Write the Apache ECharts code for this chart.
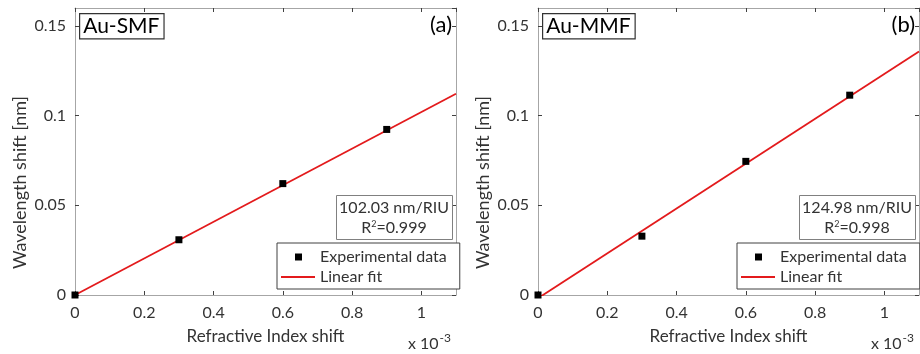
<!DOCTYPE html>
<html>
<head>
<meta charset="utf-8">
<script src="https://cdn.jsdelivr.net/npm/echarts@6/dist/echarts.min.js"></script>
<style>
html,body{margin:0;padding:0;background:#fff;}
#chart{width:920px;height:354px;}
</style>
</head>
<body>
<div id="chart"></div>
<script>
// ---- data (x in units of 1e-3 RIU, y in nm) ----
const expXA = [0, 0.3, 0.6, 0.9];
const expYA = [0, 0.0308, 0.0621, 0.0923];
const fitXA = [0, 1.1];
const fitYA = [0, 0.1122];

const expXB = [0, 0.3, 0.6, 0.9];
const expYB = [0, 0.0328, 0.0745, 0.1114];
const fitXB = [0, 1.1];
const fitYB = [-0.0018, 0.1357];

const xTicks = [0, 0.2, 0.4, 0.6, 0.8, 1];
const yTicks = [0, 0.05, 0.1, 0.15];

const panelTitles = ['Au-SMF', 'Au-MMF'];
const panelLetters = ['(a)', '(b)'];
const sensText = ['102.03 nm/RIU', '124.98 nm/RIU'];
const r2Text = ['0.999', '0.998'];

const FONT = 'Lato';
const TXT = '#333333';
const AXC = '#a6a6a6';
const TKC = '#404040';
const RED = '#e31a1c';

function pairs(xs, ys){ return xs.map((x,i)=>[x, ys[i]]); }

const grids = [
  {left: 75, top: 8, width: 381, height: 287},
  {left: 538, top: 8, width: 381, height: 287}
];

const xAxes = [], yAxes = [];
[0,1].forEach(g=>{
  xAxes.push({
    type:'value', gridIndex:g, min:0, max:1.1, interval:0.2, position:'bottom',
    name:'Refractive Index shift', nameLocation:'middle', nameGap:33,
    nameTextStyle:{fontFamily:FONT, fontSize:17, color:TXT},
    axisLine:{show:true, onZero:false, lineStyle:{color:AXC, width:1}},
    axisTick:{show:true, inside:true, length:4, lineStyle:{color:TKC}},
    axisLabel:{fontFamily:FONT, fontSize:16, color:TXT, margin:10, showMaxLabel:false},
    splitLine:{show:false}
  });
  yAxes.push({
    type:'value', gridIndex:g, min:0, max:0.16, interval:0.05, position:'left',
    name:'Wavelength shift [nm]', nameLocation:'middle', nameGap:46,
    nameTextStyle:{fontFamily:FONT, fontSize:18, color:TXT, padding:[0,62,0,0]},
    axisLine:{show:true, onZero:false, lineStyle:{color:AXC, width:1}},
    axisTick:{show:true, inside:true, length:4, lineStyle:{color:TKC}},
    axisLabel:{fontFamily:FONT, fontSize:16, color:TXT, margin:9, showMaxLabel:false},
    splitLine:{show:false}
  });
});
[0,1].forEach(g=>{
  xAxes.push({
    type:'value', gridIndex:g, min:0, max:1.1, interval:0.2, position:'top',
    axisLine:{show:true, onZero:false, lineStyle:{color:AXC, width:1}},
    axisTick:{show:true, inside:true, length:4, lineStyle:{color:TKC}},
    axisLabel:{show:false}, splitLine:{show:false}
  });
  yAxes.push({
    type:'value', gridIndex:g, min:0, max:0.16, interval:0.05, position:'right',
    axisLine:{show:true, onZero:false, lineStyle:{color:AXC, width:1}},
    axisTick:{show:true, inside:true, length:4, lineStyle:{color:TKC}},
    axisLabel:{show:false}, splitLine:{show:false}
  });
});

const series = [
  {name:'Experimental data', type:'scatter', xAxisIndex:0, yAxisIndex:0, symbol:'rect', symbolSize:7,
   itemStyle:{color:'#000', opacity:1}, data:pairs(expXA, expYA), z:5},
  {name:'Linear fit', type:'line', xAxisIndex:0, yAxisIndex:0, symbol:'none', showSymbol:false,
   lineStyle:{color:RED, width:1.8}, itemStyle:{color:RED}, data:pairs(fitXA, fitYA), z:4, clip:true},
  {name:'Experimental data', type:'scatter', xAxisIndex:1, yAxisIndex:1, symbol:'rect', symbolSize:7,
   itemStyle:{color:'#000', opacity:1}, data:pairs(expXB, expYB), z:5},
  {name:'Linear fit', type:'line', xAxisIndex:1, yAxisIndex:1, symbol:'none', showSymbol:false,
   lineStyle:{color:RED, width:1.8}, itemStyle:{color:RED}, data:pairs(fitXB, fitYB), z:4, clip:true}
];

const ICON_SQUARE = 'path://M0,0 L0,0 M14,0 L21,0 L21,7 L14,7 Z M34,7 L34,7';
const ICON_LINE = 'path://M0,2.6 L34,2.6 L34,4.4 L0,4.4 Z M0,0 L0,0 M34,7 L34,7';

function legendFor(left){
  return {
    left:left, top:243, orient:'vertical',
    data:[{name:'Experimental data', icon:ICON_SQUARE, itemStyle:{color:'#000', opacity:1}},
          {name:'Linear fit', icon:ICON_LINE, itemStyle:{color:RED}}],
    itemWidth:34, itemHeight:7, itemGap:2,
    padding:[5,13,3,4],
    borderColor:'#404040', borderWidth:1, backgroundColor:'#fff',
    textStyle:{fontFamily:FONT, fontSize:16, color:TXT, lineHeight:18},
    selectedMode:false
  };
}

const graphics = [];
[0,1].forEach(g=>{
  const L = grids[g].left;
  graphics.push({type:'text', left:L+4, top:13, z:10,
    style:{text:panelTitles[g], fontFamily:FONT, fontSize:21, fill:'#000',
      backgroundColor:'#fff', borderColor:'#333', borderWidth:1.2, padding:[2,4,1,3]}});
  graphics.push({type:'text', right: 920 - (L+381) + 4, top:14, z:10,
    style:{text:panelLetters[g], fontFamily:FONT, fontSize:22, fill:'#000'}});
  graphics.push({type:'rect', left:L+261, top:195, z:10,
    shape:{width:116, height:44},
    style:{fill:'#fff', stroke:'#808080', lineWidth:1}});
  graphics.push({type:'text', z:11, x:L+319, y:208,
    style:{text:sensText[g], fontFamily:FONT, fontSize:16, fill:TXT, textAlign:'center', textVerticalAlign:'middle'}});
  graphics.push({type:'text', z:11, x:L+319, y:228,
    style:{text:'{a|R}{s|2}{a|=' + r2Text[g] + '}', textAlign:'center', textVerticalAlign:'middle',
      rich:{a:{fontFamily:FONT, fontSize:16, fill:TXT, color:TXT},
            s:{fontFamily:FONT, fontSize:9, fill:TXT, color:TXT, verticalAlign:'top', padding:[0,0,8,0]}}}});
  graphics.push({type:'text', z:11, x:L+333, y:344,
    style:{text:'{a|x 10}{s|-3}', textVerticalAlign:'middle',
      rich:{a:{fontFamily:FONT, fontSize:16, color:TXT, fill:TXT},
            s:{fontFamily:FONT, fontSize:12, color:TXT, fill:TXT, padding:[0,0,12,1]}}}});
});

const chart = echarts.init(document.getElementById('chart'), null, {renderer:'canvas'});
chart.setOption({
  animation:false,
  backgroundColor:'#fff',
  grid:grids,
  xAxis:xAxes,
  yAxis:yAxes,
  legend:[legendFor(277), legendFor(737)],
  series:series,
  graphic:graphics
});
</script>
</body>
</html>
